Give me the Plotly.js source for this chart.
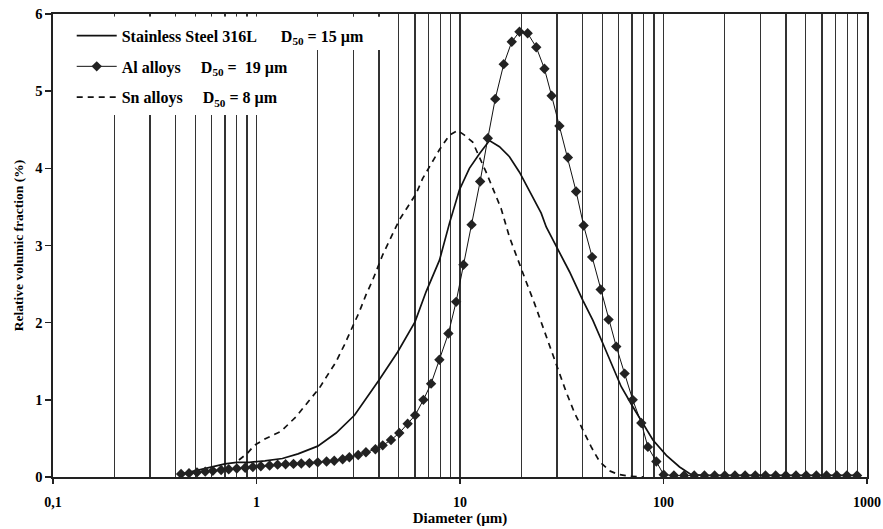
<!DOCTYPE html>
<html>
<head>
<meta charset="utf-8">
<script src="https://cdn.plot.ly/plotly-3.0.1.min.js"></script>
<style>html,body{margin:0;padding:0;background:#fff;}#chart{width:883px;height:529px;}</style>
</head>
<body>
<div id="chart"></div>
<script>
// Stainless Steel 316L (solid line)
const ssDiameter = [0.43, 0.5, 0.6, 0.7, 0.8, 0.92, 1.1, 1.34, 1.6, 2.0, 2.46, 3.03, 4.01, 4.94, 6.01, 6.81, 7.93, 8.88, 9.93, 11.12, 12.46, 13.95, 15.63, 17.5, 19.6, 21.95, 25.06, 26.53, 30.28, 34.53, 40.15, 44.99, 50.37, 56.39, 61.99, 70.67, 79.21, 88.74, 103.3, 120, 137, 160, 200, 300, 500, 893];
const ssValue = [0.04, 0.08, 0.13, 0.17, 0.19, 0.19, 0.21, 0.24, 0.3, 0.40, 0.57, 0.80, 1.26, 1.62, 2.01, 2.40, 2.81, 3.29, 3.72, 4.0, 4.19, 4.36, 4.28, 4.15, 3.95, 3.70, 3.42, 3.24, 2.94, 2.66, 2.29, 2.03, 1.73, 1.43, 1.17, 0.91, 0.70, 0.48, 0.28, 0.13, 0.03, 0.02, 0.02, 0.02, 0.02, 0.02];

// Al alloys (line + diamond markers)
const alDiameter = [0.426, 0.466, 0.51, 0.56, 0.61, 0.67, 0.73, 0.80, 0.88, 0.96, 1.05, 1.16, 1.27, 1.39, 1.52, 1.66, 1.82, 2.0, 2.21, 2.41, 2.65, 2.86, 3.16, 3.45, 3.84, 4.17, 4.58, 5.03, 5.53, 6.02, 6.61, 7.21, 7.92, 8.77, 9.57, 10.4, 11.4, 12.56, 13.7, 14.9, 16.4, 17.96, 19.6, 21.5, 23.7, 26.0, 28.2, 30.8, 33.9, 37.2, 40.5, 44.6, 49.1, 53.7, 58.6, 64.4, 70.6, 77.8, 83.8, 92.2, 100.2, 112.5, 126.2, 141.6, 158.9, 178.3, 200, 224.4, 251.8, 282.5, 317.0, 355.7, 399.1, 447.7, 502.4, 563.7, 632.5, 709.6, 796.2, 893.4];
const alValue = [0.04, 0.05, 0.06, 0.07, 0.08, 0.09, 0.10, 0.11, 0.12, 0.13, 0.14, 0.15, 0.16, 0.165, 0.17, 0.175, 0.18, 0.19, 0.20, 0.21, 0.23, 0.255, 0.285, 0.32, 0.36, 0.41, 0.48, 0.57, 0.69, 0.80, 1.00, 1.21, 1.52, 1.86, 2.27, 2.75, 3.27, 3.83, 4.39, 4.90, 5.35, 5.64, 5.77, 5.75, 5.57, 5.29, 4.94, 4.55, 4.14, 3.70, 3.26, 2.85, 2.43, 2.04, 1.69, 1.34, 1.00, 0.70, 0.39, 0.20, 0.03, 0.02, 0.02, 0.02, 0.02, 0.02, 0.02, 0.02, 0.02, 0.02, 0.02, 0.02, 0.02, 0.02, 0.02, 0.02, 0.02, 0.02, 0.02, 0.02];

// Sn alloys (dashed line)
const snDiameter = [0.82, 0.904, 0.975, 1.112, 1.318, 1.563, 1.853, 2.034, 2.234, 2.458, 2.70, 2.91, 3.20, 3.45, 3.72, 4.17, 4.58, 5.03, 5.53, 6.08, 6.56, 7.21, 7.92, 8.87, 9.75, 10.52, 11.54, 13.44, 14.76, 15.92, 17.49, 19.23, 21.14, 23.23, 25.53, 28.06, 30.84, 33.26, 36.55, 40.16, 44.14, 48.51, 54.30, 59.66, 68.1, 80];
const snValue = [0.22, 0.31, 0.41, 0.50, 0.59, 0.78, 1.02, 1.15, 1.32, 1.49, 1.71, 1.90, 2.14, 2.36, 2.55, 2.88, 3.11, 3.33, 3.50, 3.67, 3.87, 4.06, 4.24, 4.43, 4.49, 4.43, 4.34, 3.95, 3.70, 3.48, 3.11, 2.81, 2.53, 2.25, 1.95, 1.65, 1.34, 1.10, 0.83, 0.61, 0.39, 0.20, 0.08, 0.035, 0.01, 0.0];

// Axis ticks
const xMajorVals = [0.1, 1, 10, 100, 1000];
const xMajorText = ['0,1', '1', '10', '100', '1000'];
const xMinorVals = [0.2, 0.3, 0.4, 0.5, 0.6, 0.7, 0.8, 0.9, 1, 2, 3, 4, 5, 6, 7, 8, 9, 10, 20, 30, 40, 50, 60, 70, 80, 90, 100, 200, 300, 400, 500, 600, 700, 800, 900];
const yTickVals = [0, 1, 2, 3, 4, 5, 6];

const seriesNames = [
  'Stainless Steel 316L\u00a0\u00a0\u00a0\u00a0\u00a0\u00a0D<sub>50</sub> = 15 \u00b5m',
  'Al alloys\u00a0\u00a0\u00a0\u00a0\u00a0D<sub>50</sub> =\u00a0 19 \u00b5m',
  'Sn alloys\u00a0\u00a0\u00a0\u00a0\u00a0D<sub>50</sub> = 8 \u00b5m'
];

const serif = 'Liberation Serif, Times New Roman, serif';

const traces = [
  {x: ssDiameter, y: ssValue, type: 'scatter', mode: 'lines', name: seriesNames[0], legendgroup: 'a',
   line: {color: '#111', width: 1.7}},
  {x: alDiameter, y: alValue, type: 'scatter', mode: 'lines+markers', name: seriesNames[1], legendgroup: 'b',
   line: {color: '#111', width: 1}, marker: {symbol: 'diamond', size: 8, color: '#222'}},
  {x: snDiameter, y: snValue, type: 'scatter', mode: 'lines', name: seriesNames[2], legendgroup: 'c',
   line: {color: '#111', width: 1.7, dash: '6px,5px'}}
];

const layout = {
  width: 883, height: 529,
  margin: {l: 53, r: 16, t: 14, b: 52},
  paper_bgcolor: '#fff', plot_bgcolor: '#fff',
  font: {family: serif, color: '#000'},
  showlegend: true,
  legend: {x: 0.023, y: 0.99, xanchor: 'left', yanchor: 'top', bgcolor: 'rgba(0,0,0,0)',
    itemwidth: 40,
    font: {family: serif, size: 16, weight: 'bold', color: '#000'}, tracegroupgap: 7},
  xaxis: {
    type: 'log', range: [-1, 3],
    tickmode: 'array', tickvals: xMajorVals, ticktext: xMajorText,
    ticks: 'outside', ticklen: 5, tickwidth: 1.5, tickcolor: '#222',
    ticklabelstandoff: 7,
    tickfont: {family: serif, size: 14, weight: 'bold', color: '#000'},
    showgrid: false,
    minor: {tickmode: 'array', tickvals: xMinorVals, showgrid: true, gridcolor: '#333', gridwidth: 1.4, ticks: ''},
    showline: true, linecolor: '#222', linewidth: 1.6, mirror: true,
    zeroline: false,
    title: {text: 'Diameter (\u00b5m)', font: {family: serif, size: 15, weight: 'bold', color: '#000'}, standoff: 2}
  },
  yaxis: {
    range: [0, 6], tickmode: 'array', tickvals: yTickVals,
    ticks: 'outside', ticklen: 6, tickwidth: 1.5, tickcolor: '#222',
    tickfont: {family: serif, size: 14.5, weight: 'bold', color: '#000'},
    showgrid: false, zeroline: false,
    showline: true, linecolor: '#222', linewidth: 1.6, mirror: true,
    title: {text: 'Relative volumic fraction (%)', font: {family: serif, size: 13.5, weight: 'bold', color: '#000'}, standoff: 8}
  },
  shapes: [
    {type: 'rect', xref: 'paper', yref: 'paper', x0: 0.003, x1: 0.303, y0: 0.782, y1: 0.994,
     fillcolor: '#fff', line: {width: 0}, layer: 'above'},
    {type: 'rect', xref: 'paper', yref: 'paper', x0: 0.003, x1: 0.416, y0: 0.922, y1: 0.994,
     fillcolor: '#fff', line: {width: 0}, layer: 'above'}
  ]
};

Plotly.newPlot('chart', traces, layout, {displayModeBar: false, staticPlot: true});
</script>
</body>
</html>
